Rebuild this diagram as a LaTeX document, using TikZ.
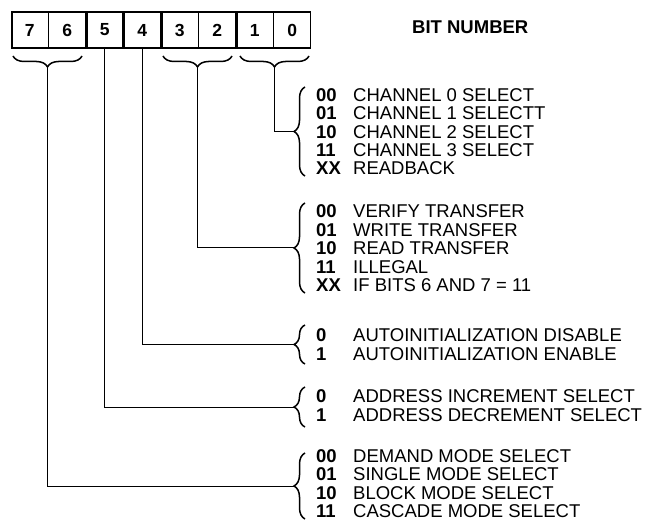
\documentclass[tikz,border=0pt]{standalone}
\usepackage{fontspec}
\setmainfont{Liberation Sans}
\usetikzlibrary{decorations.pathreplacing}

\begin{document}
\begin{tikzpicture}[x=1pt, y=-1pt,
    cell/.style={minimum width=37.5pt, minimum height=36pt, inner sep=0pt,
        font=\bfseries\fontsize{17.5}{17.5}\selectfont},
    group/.style={line width=1.8pt},
    wire/.style={line width=1pt},
    ubrace/.style={decorate, decoration={brace, mirror, amplitude=11pt}, line width=1.5pt},
    lbrace/.style={decorate, decoration={brace, amplitude=11pt}, line width=1.5pt},
    code/.style={anchor=base west, inner sep=0pt, font=\bfseries\fontsize{18.5}{18.5}\selectfont},
    desc/.style={anchor=base west, inner sep=0pt, font=\fontsize{18.5}{18.5}\selectfont}]

    \useasboundingbox (0,0) rectangle (645,521);

    % Layout values
    \def\cw{37.5}
    \def\xcell{11}
    \def\xcode{316}
    \def\xdesc{353}
    \def\xbrace{305}
    \def\xtip{294}
    \def\cap{6.6}

    % Register cells, bit 7 on the left
    \foreach \b [count=\i from 0] in {7,6,...,0}
        \node[cell] (b\b) at ({\xcell+\cw*(\i+0.5)}, 30) {\b};

    % Outlines of the bit fields
    \foreach \l/\r in {7/6, 5/5, 4/4, 3/2, 1/0}
        \draw[group] ([xshift=0.8pt]b\l.north west) rectangle ([xshift=-0.8pt]b\r.south east);
    \foreach \l in {7, 3, 1}
        \draw[line width=0.9pt] (b\l.north east) -- (b\l.south east);

    \node[anchor=west, inner sep=0pt, font=\bfseries\fontsize{18.5}{18.5}\selectfont] (title) at (412, 27) {BIT NUMBER};

    % Braces under the two-bit fields
    \draw[ubrace] (13,56) -- (82,56);
    \coordinate (t76) at (47.5,67);
    \draw[ubrace] (163,56) -- (232,56);
    \coordinate (t32) at (197.5,67);
    \draw[ubrace] (240,56) -- (309,56);
    \coordinate (t10) at (274.5,67);

    % Bits 1-0
    \foreach \c/\t [count=\i from 0] in {00/CHANNEL 0 SELECT,%
        01/CHANNEL 1 SELECTT,%
        10/CHANNEL 2 SELECT,%
        11/CHANNEL 3 SELECT,%
        XX/READBACK} {
        \node[code] (c10\i) at (\xcode, {95+18.25*\i+\cap}) {\c};
        \node[desc] (d10\i) at (\xdesc, {95+18.25*\i+\cap}) {\t};
    }
    \draw[lbrace] (\xbrace,176) -- (\xbrace,87);
    \coordinate (s10) at (\xtip,131.5);
    \draw[wire] (t10) |- (s10);

    % Bits 3-2
    \foreach \c/\t [count=\i from 0] in {00/VERIFY TRANSFER,%
        01/WRITE TRANSFER,%
        10/READ TRANSFER,%
        11/ILLEGAL,%
        XX/IF BITS 6 AND 7 = 11} {
        \node[code] (c32\i) at (\xcode, {211+18.5*\i+\cap}) {\c};
        \node[desc] (d32\i) at (\xdesc, {211+18.5*\i+\cap}) {\t};
    }
    \draw[lbrace] (\xbrace,293) -- (\xbrace,203);
    \coordinate (s32) at (\xtip,248);
    \draw[wire] (t32) |- (s32);

    % Bit 4
    \foreach \c/\t [count=\i from 0] in {0/AUTOINITIALIZATION DISABLE,%
        1/AUTOINITIALIZATION ENABLE} {
        \node[code] (c4\i) at (\xcode, {335+19*\i+\cap}) {\c};
        \node[desc] (d4\i) at (\xdesc, {335+19*\i+\cap}) {\t};
    }
    \draw[lbrace] (\xbrace,364) -- (\xbrace,325);
    \coordinate (s4) at (\xtip,344.5);
    \draw[wire] (b4.south) |- (s4);

    % Bit 5
    \foreach \c/\t [count=\i from 0] in {0/ADDRESS INCREMENT SELECT,%
        1/ADDRESS DECREMENT SELECT} {
        \node[code] (c5\i) at (\xcode, {396+19*\i+\cap}) {\c};
        \node[desc] (d5\i) at (\xdesc, {396+19*\i+\cap}) {\t};
    }
    \draw[lbrace] (\xbrace,427) -- (\xbrace,387);
    \coordinate (s5) at (\xtip,407);
    \draw[wire] (b5.south) |- (s5);

    % Bits 7-6
    \foreach \c/\t [count=\i from 0] in {00/DEMAND MODE SELECT,%
        01/SINGLE MODE SELECT,%
        10/BLOCK MODE SELECT,%
        11/CASCADE MODE SELECT} {
        \node[code] (c76\i) at (\xcode, {456+18.2*\i+\cap}) {\c};
        \node[desc] (d76\i) at (\xdesc, {456+18.2*\i+\cap}) {\t};
    }
    \draw[lbrace] (\xbrace,519) -- (\xbrace,453);
    \coordinate (s76) at (\xtip,486);
    \draw[wire] (t76) |- (s76);

\end{tikzpicture}
\end{document}
